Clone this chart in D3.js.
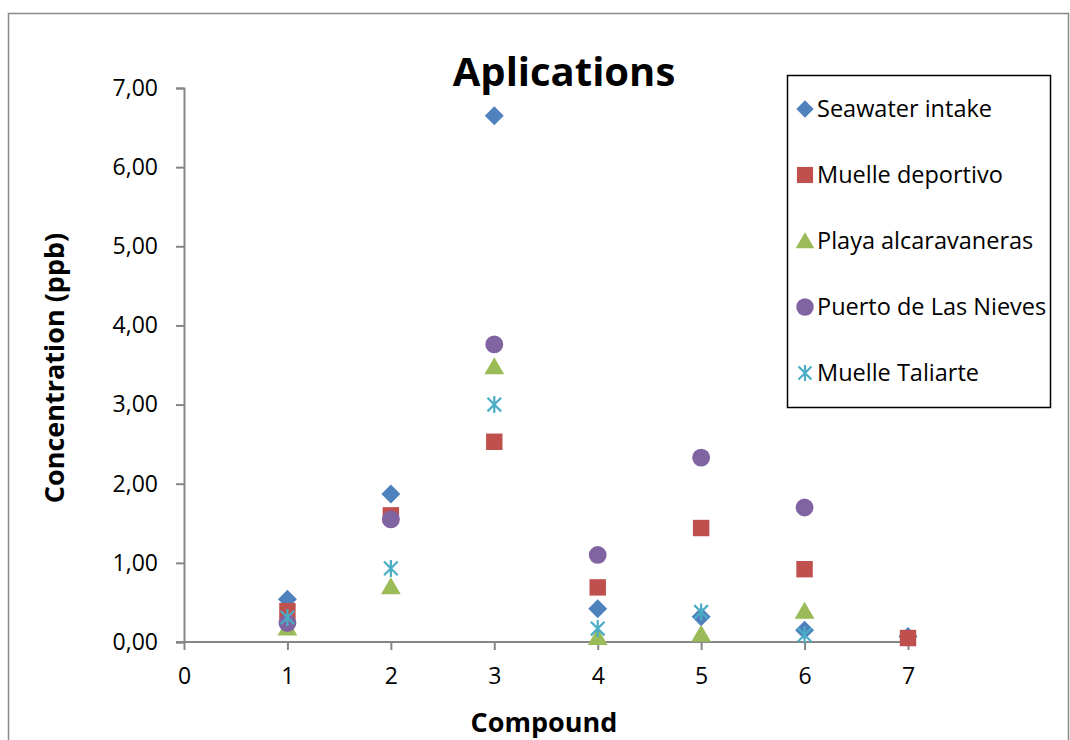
<!DOCTYPE html>
<html>
<head>
<script src="https://d3js.org/d3.v7.min.js"></script>
<style>
  body { margin: 0; background: #fff; font-family: "Open Sans", sans-serif; }
</style>
</head>
<body>
<div id="chart"></div>
<script>
// DATA
var compounds = [1, 2, 3, 4, 5, 6, 7];
var seriesNames = ["Seawater intake", "Muelle deportivo", "Playa alcaravaneras", "Puerto de Las Nieves", "Muelle Taliarte"];
var seawater  = [0.54, 1.87, 6.65, 0.42, 0.32, 0.15, 0.07];
var deportivo = [0.39, 1.60, 2.53, 0.69, 1.44, 0.92, 0.05];
var playa     = [0.18, 0.70, 3.48, 0.06, 0.10, 0.39, null];
var nieves    = [0.24, 1.55, 3.76, 1.10, 2.33, 1.70, null];
var taliarte  = [0.31, 0.93, 3.00, 0.17, 0.38, 0.09, null];
var yTicks = [0, 1, 2, 3, 4, 5, 6, 7];
var xTicks = [0, 1, 2, 3, 4, 5, 6, 7];

var colors = ["#4F81BD", "#C0504D", "#9BBB59", "#8064A2", "#4BACC6"];
var allValues = [seawater, deportivo, playa, nieves, taliarte];

var width = 1070, height = 740;
var svg = d3.select("#chart").append("svg")
  .attr("width", width).attr("height", height);

// chart border
svg.append("rect")
  .attr("x", 8.5).attr("y", 13.5)
  .attr("width", 1060).attr("height", 740)
  .attr("fill", "none").attr("stroke", "#898989").attr("stroke-width", 1.5);

var x = d3.scaleLinear().domain([0, 7]).range([184, 908]);
var y = d3.scaleLinear().domain([0, 7]).range([642, 88]);

var fmt = function(d) { return d3.format(".2f")(d).replace(".", ","); };

// y axis
var yAxis = svg.append("g")
  .attr("transform", "translate(184,0)")
  .call(d3.axisLeft(y).tickValues(yTicks).tickFormat(fmt).tickSize(8).tickPadding(16));
// x axis
var xAxis = svg.append("g")
  .attr("transform", "translate(0,642)")
  .call(d3.axisBottom(x).tickValues(xTicks).tickFormat(d3.format("d")).tickSize(8).tickPadding(18));

[yAxis, xAxis].forEach(function(a) {
  a.select(".domain").attr("stroke", "#868686").attr("stroke-width", 2);
  a.selectAll(".tick line").attr("stroke", "#868686").attr("stroke-width", 2);
  a.selectAll("text").attr("fill", "#000").style("font-size", "23px").style("font-family", "'Open Sans', sans-serif");
});
yAxis.selectAll(".tick text").attr("x", -26);
// x axis line extends back to the y tick mark
xAxis.select(".domain").attr("d", "M176,0H908");

// titles
svg.append("text")
  .attr("x", 564).attr("y", 86)
  .attr("text-anchor", "middle")
  .style("font-size", "40px").style("font-weight", "bold")
  .text("Aplications");

svg.append("text")
  .attr("x", 544).attr("y", 732)
  .attr("text-anchor", "middle")
  .style("font-size", "27px").style("font-weight", "bold")
  .text("Compound");

svg.append("text")
  .attr("transform", "translate(64,368) rotate(-90)")
  .attr("text-anchor", "middle")
  .style("font-size", "27px").style("font-weight", "bold")
  .text("Concentration (ppb)");

// markers
var star = {
  draw: function(ctx, size) {
    var r = Math.sqrt(size) / 2;
    ctx.moveTo(0, -r); ctx.lineTo(0, r);
    var d = r * 0.8;
    ctx.moveTo(-d, -d); ctx.lineTo(d, d);
    ctx.moveTo(-d, d); ctx.lineTo(d, -d);
  }
};
var diamond = {
  draw: function(ctx, size) {
    var r = Math.sqrt(size / 2);
    ctx.moveTo(0, -r); ctx.lineTo(r, 0); ctx.lineTo(0, r); ctx.lineTo(-r, 0); ctx.closePath();
  }
};
var shapes = [
  d3.symbol().type(diamond).size(180),
  d3.symbol().type(d3.symbolSquare).size(270),
  d3.symbol().type(d3.symbolTriangle).size(170),
  d3.symbol().type(d3.symbolCircle).size(250),
  d3.symbol().type(star).size(290)
];

function drawMarker(g, i, s) {
  var p = g.append("path").attr("d", s[i]());
  if (i === 4) {
    p.attr("fill", "none").attr("stroke", colors[i]).attr("stroke-width", 2.2);
  } else {
    p.attr("fill", colors[i]);
  }
}

allValues.forEach(function(vals, i) {
  var grp = svg.append("g");
  compounds.forEach(function(c, j) {
    if (vals[j] == null) return;
    var dy = i === 2 ? 2 : 0;
    var g = grp.append("g").attr("transform", "translate(" + x(c) + "," + (y(vals[j]) + dy) + ")");
    drawMarker(g, i, shapes);
  });
});

// legend
var legend = svg.append("g");
legend.append("rect")
  .attr("x", 787.5).attr("y", 75.5)
  .attr("width", 263).attr("height", 332)
  .attr("fill", "#fff").attr("stroke", "#000").attr("stroke-width", 1.5);

var legendShapes = [
  d3.symbol().type(diamond).size(150),
  d3.symbol().type(d3.symbolSquare).size(260),
  d3.symbol().type(d3.symbolTriangle).size(150),
  d3.symbol().type(d3.symbolCircle).size(240),
  d3.symbol().type(star).size(260)
];

seriesNames.forEach(function(name, i) {
  var ly = 109 + i * 66;
  var g = legend.append("g").attr("transform", "translate(805," + (ly + (i === 2 ? 2 : 0)) + ")");
  drawMarker(g, i, legendShapes);
  legend.append("text")
    .attr("x", 817).attr("y", ly + 8)
    .style("font-size", "23.5px")
    .text(name);
});
</script>
</body>
</html>
